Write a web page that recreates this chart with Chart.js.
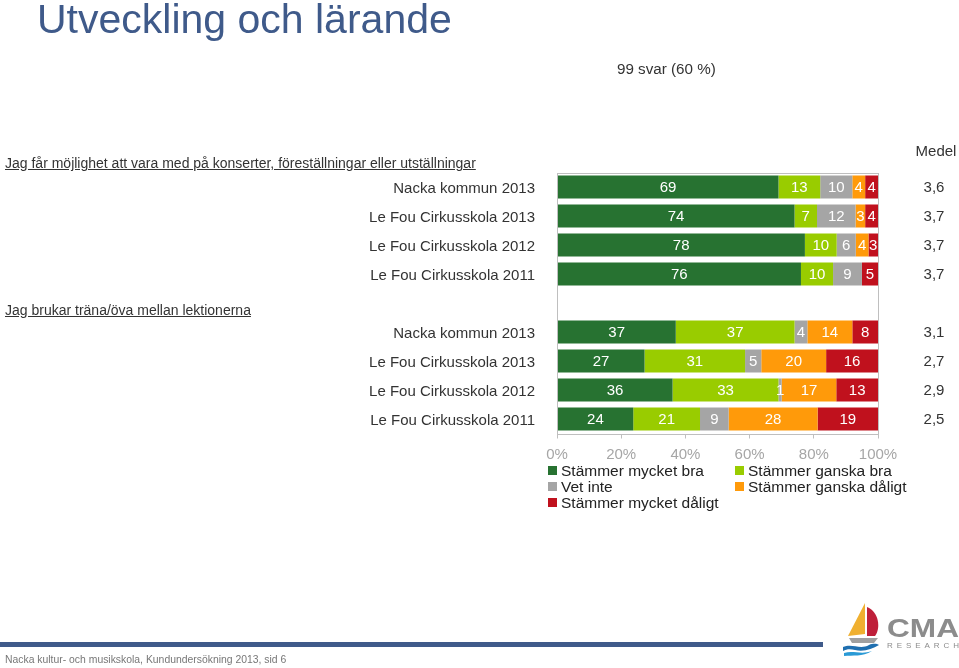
<!DOCTYPE html>
<html>
<head>
<meta charset="utf-8">
<script src="https://cdn.jsdelivr.net/npm/chart.js@4"></script>
<style>
body { margin: 0; background: #fff; font-family: "Liberation Sans", Arial, sans-serif; }
#page { position: relative; width: 959px; height: 668px; overflow: hidden; }
#page canvas { position: absolute; left: 0; top: 0; }
.txt { position: absolute; white-space: nowrap; }
#title { left: 37px; top: -4px; font-size: 41px; color: #3f5a8a; }
#svar { left: 617px; top: 60px; font-size: 15.2px; color: #333; }
.head { left: 5px; font-size: 14px; color: #333; text-decoration: underline; }
#footbar { position: absolute; left: 0; top: 642px; width: 823px; height: 5px; background: #3f5a8a; }
#foot { left: 5px; top: 654px; font-size: 10.4px; color: #777; }
#legend { position: absolute; left: 548px; top: 463px; width: 380px; font-size: 15.5px; color: #222; }
#legend div { position: absolute; white-space: nowrap; line-height: 16px; }
#legend span { display: inline-block; width: 9px; height: 9px; margin-right: 4px; vertical-align: 1px; }
#logo { position: absolute; left: 835px; top: 598px; }
</style>
</head>
<body>
<div id="page">
  <canvas id="chart" width="959" height="668"></canvas>
  <div class="txt" id="title">Utveckling och lärande</div>
  <div class="txt" id="svar">99 svar (60 %)</div>
  <div class="txt head" style="top:155px">Jag får möjlighet att vara med på konserter, föreställningar eller utställningar</div>
  <div class="txt head" style="top:302px">Jag brukar träna/öva mellan lektionerna</div>
  <div id="legend"></div>
  <svg id="logo" width="124" height="62" viewBox="0 0 124 62">
    <path d="M30 5 L13 38 L30 36 Z" fill="#f0b030"/>
    <path d="M32 9 C44 14 46 30 40 38 L32 38 Z" fill="#bf1f3a"/>
    <path d="M14 40 L43 40 L39 45 L17 45 Z" fill="#a0a0a0"/>
    <path d="M8 49 C17 45 25 52 34 47 C39 45 42 46 44 47 C37 51 29 54 20 52 C15 51 12 51 8 53 Z" fill="#1f6fb0"/>
    <path d="M9 55 C18 52 26 57 37 53 C27 59 18 57 9 58 Z" fill="#2a9ad6"/>
    <text x="52" y="39" font-family="Liberation Sans, Arial" font-weight="bold" font-size="26" fill="#8c8c8c" textLength="72" lengthAdjust="spacingAndGlyphs">CMA</text>
    <text x="52" y="50" font-family="Liberation Sans, Arial" font-size="8" fill="#8c8c8c" textLength="72" lengthAdjust="spacing">RESEARCH</text>
  </svg>
  <div id="footbar"></div>
  <div class="txt" id="foot">Nacka kultur- och musikskola, Kundundersökning 2013, sid 6</div>
</div>
<script>
// rows of the chart, '' is the empty gap between the two questions
const categories = [
    'Nacka kommun 2013', 'Le Fou Cirkusskola 2013', 'Le Fou Cirkusskola 2012', 'Le Fou Cirkusskola 2011',
    '',
    'Nacka kommun 2013', 'Le Fou Cirkusskola 2013', 'Le Fou Cirkusskola 2012', 'Le Fou Cirkusskola 2011'
];
const seriesNames = ['Stämmer mycket bra', 'Stämmer ganska bra', 'Vet inte', 'Stämmer ganska dåligt', 'Stämmer mycket dåligt'];
const mycketBra    = [69, 74, 78, 76, null, 37, 27, 36, 24];
const ganskaBra    = [13, 7, 10, 10, null, 37, 31, 33, 21];
const vetInte      = [10, 12, 6, 9, null, 4, 5, 1, 9];
const ganskaDaligt = [4, 3, 4, 0, null, 14, 20, 17, 28];
const mycketDaligt = [4, 4, 3, 5, null, 8, 16, 13, 19];
const medel = ['3,6', '3,7', '3,7', '3,7', '', '3,1', '2,7', '2,9', '2,5'];
const xTicks = [0, 20, 40, 60, 80, 100];

const seriesValues = [mycketBra, ganskaBra, vetInte, ganskaDaligt, mycketDaligt];
const seriesColors = ['#277231', '#99cc00', '#a5a5a5', '#ff9a0a', '#c0111d'];

const FONT = '"Liberation Sans", Arial, sans-serif';

// row totals, bars are shown as share of 100 %
const rowTotals = categories.map(function(c, i) {
    let s = 0;
    seriesValues.forEach(function(arr) { s += arr[i] || 0; });
    return s;
});

const datasets = seriesValues.map(function(arr, k) {
    return {
        label: seriesNames[k],
        data: arr.map(function(v, i) { return v === null ? null : v / rowTotals[i] * 100; }),
        raw: arr,
        backgroundColor: seriesColors[k],
        borderWidth: 0,
        categoryPercentage: 1,
        barPercentage: 0.79
    };
});

// legend built from the series
const legendPos = [[0, 0], [187, 0], [0, 16], [187, 16], [0, 32]];
let legendHtml = '';
seriesNames.forEach(function(name, k) {
    legendHtml += '<div style="left:' + legendPos[k][0] + 'px;top:' + legendPos[k][1] + 'px">' +
        '<span style="background:' + seriesColors[k] + '"></span>' + name + '</div>';
});
document.getElementById('legend').innerHTML = legendHtml;

const barLabels = {
    id: 'barLabels',
    afterDatasetsDraw: function(chart) {
        const ctx = chart.ctx;
        ctx.save();
        ctx.font = '15px ' + FONT;
        ctx.fillStyle = '#fff';
        ctx.textAlign = 'center';
        ctx.textBaseline = 'middle';
        chart.data.datasets.forEach(function(ds, k) {
            const meta = chart.getDatasetMeta(k);
            meta.data.forEach(function(bar, i) {
                const v = ds.raw[i];
                if (!v) return;
                ctx.fillText(String(v), (bar.x + bar.base) / 2, bar.y + 1);
            });
        });
        ctx.restore();
    }
};

const frameAndMedel = {
    id: 'frameAndMedel',
    afterDraw: function(chart) {
        const ctx = chart.ctx;
        const a = chart.chartArea;
        const y = chart.scales.y;
        ctx.save();
        ctx.strokeStyle = '#bfbfbf';
        ctx.lineWidth = 1;
        ctx.strokeRect(Math.round(a.left) + 0.5, Math.round(a.top) + 0.5,
            Math.round(a.right - a.left), Math.round(a.bottom - a.top));
        ctx.font = '15px ' + FONT;
        ctx.fillStyle = '#333';
        ctx.textAlign = 'center';
        ctx.textBaseline = 'middle';
        ctx.fillText('Medel', 936, 152);
        medel.forEach(function(m, i) {
            if (m) ctx.fillText(m, 934, y.getPixelForValue(i) + 1);
        });
        ctx.restore();
    }
};

new Chart(document.getElementById('chart'), {
    type: 'bar',
    data: { labels: categories, datasets: datasets },
    options: {
        indexAxis: 'y',
        responsive: false,
        animation: false,
        layout: { padding: { left: 0, right: 81, top: 172.5, bottom: 0 } },
        plugins: { legend: { display: false }, tooltip: { enabled: false } },
        scales: {
            x: {
                stacked: true,
                min: 0,
                max: 100,
                afterBuildTicks: function(scale) {
                    scale.ticks = xTicks.map(function(v) { return { value: v }; });
                },
                afterFit: function(scale) { scale.height = 234.5; },
                grid: { display: true, drawOnChartArea: false, drawTicks: true, tickLength: 5, color: '#bfbfbf' },
                border: { display: false },
                ticks: {
                    padding: 7,
                    color: '#a6a6a6',
                    font: { family: FONT, size: 15 },
                    callback: function(v) { return v + '%'; }
                }
            },
            y: {
                stacked: true,
                afterFit: function(scale) { scale.width = 557; },
                grid: { display: false },
                border: { display: false },
                ticks: {
                    padding: 14,
                    labelOffset: 2,
                    color: '#333',
                    font: { family: FONT, size: 15 }
                }
            }
        }
    },
    plugins: [barLabels, frameAndMedel]
});
</script>
</body>
</html>
